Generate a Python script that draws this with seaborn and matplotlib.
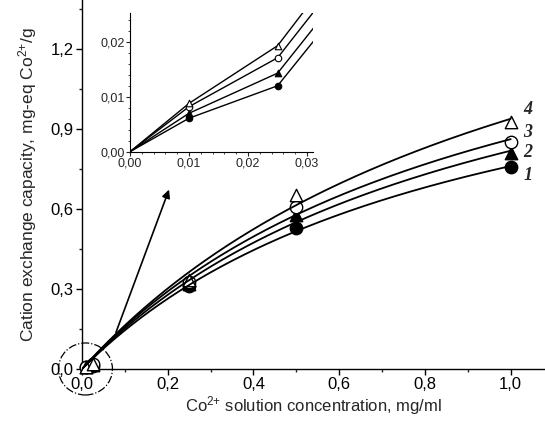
import numpy as np
import pandas as pd
import matplotlib
matplotlib.use("Agg")
import matplotlib.pyplot as plt
from matplotlib.ticker import FuncFormatter, MultipleLocator
from matplotlib.patches import Ellipse
import seaborn as sns

# ---- data ----
conc = [0.0, 0.01, 0.025, 0.25, 0.5, 1.0]
s1 = [0.0, 0.0061, 0.0120, 0.312, 0.527, 0.757]
s2 = [0.0, 0.0070, 0.0143, 0.318, 0.577, 0.810]
s3 = [0.0, 0.0082, 0.0171, 0.325, 0.609, 0.851]
s4 = [0.0, 0.0088, 0.0193, 0.335, 0.652, 0.926]
series_names = ["1", "2", "3", "4"]
xticks_main = [0.0, 0.2, 0.4, 0.6, 0.8, 1.0]
yticks_main = [0.0, 0.3, 0.6, 0.9, 1.2]
xticks_inset = [0.0, 0.01, 0.02, 0.03]
yticks_inset = [0.0, 0.01, 0.02]

sns.set_style("ticks")
plt.rcParams["font.family"] = ["Liberation Sans", "DejaVu Sans"]
plt.rcParams["mathtext.default"] = "regular"

fig = plt.figure(figsize=(5.45, 4.28), dpi=100)
ax = fig.add_axes([0.1505, 0.1379, 0.8495, 0.862])

series = [s1, s2, s3, s4]
markers = ["o", "^", "o", "^"]
filled = [True, True, False, False]
label_y = [0.727, 0.81, 0.885, 0.971]

def comma(fmt):
    return FuncFormatter(lambda v, p: (fmt % v).replace(".", ","))

# Langmuir fit for each series (grid search least squares)
c_arr = np.array(conc[1:])
qm_grid = np.linspace(0.5, 5.0, 451)[:, None]
k_grid = np.linspace(0.1, 10.0, 991)[None, :]
cfine = np.linspace(0.0, 1.0, 300)

for idx, (vals, name, mk, fl) in enumerate(zip(series, series_names, markers, filled)):
    q = np.array(vals[1:])
    err = np.zeros((qm_grid.shape[0], k_grid.shape[1]))
    for ci, qi in zip(c_arr, q):
        pred = qm_grid * k_grid * ci / (1 + k_grid * ci)
        err += (pred - qi) ** 2
    i, j = np.unravel_index(np.argmin(err), err.shape)
    qm, K = qm_grid[i, 0], k_grid[0, j]
    fit = qm * K * cfine / (1 + K * cfine)
    sns.lineplot(x=cfine, y=fit, ax=ax, color="black", lw=1.3, zorder=5)
    df = pd.DataFrame({"c": conc[1:], "q": vals[1:]})
    sns.scatterplot(data=df, x="c", y="q", ax=ax, marker=mk, s=80,
                    facecolor="black" if fl else "white", edgecolor="black",
                    linewidth=1.0, zorder=3 + idx * 0.1, clip_on=False)
    ax.text(1.04, label_y[idx], name, fontsize=13, fontweight="bold",
            fontstyle="italic", family=["Liberation Serif"],
            ha="center", va="center")

ax.set_xlim(0, 1.08)
ax.set_ylim(0, 1.383)
ax.set_xticks(xticks_main)
ax.set_yticks(yticks_main)
ax.xaxis.set_minor_locator(MultipleLocator(0.1))
ax.yaxis.set_minor_locator(MultipleLocator(0.15))
ax.xaxis.set_major_formatter(comma("%.1f"))
ax.yaxis.set_major_formatter(comma("%.1f"))
ax.tick_params(axis="both", which="major", direction="out", length=4, width=1,
               labelsize=12, colors="black", pad=2)
ax.tick_params(axis="both", which="minor", direction="out", length=2.5, width=1)
for sp in ["top", "right"]:
    ax.spines[sp].set_visible(False)
for sp in ["left", "bottom"]:
    ax.spines[sp].set_linewidth(1.0)
    ax.spines[sp].set_color("black")
ax.set_xlabel("Co$^{2{+}}$ solution concentration, mg/ml", fontsize=12, labelpad=1)
ax.set_ylabel("Cation exchange capacity, mg-eq Co$^{2{+}}$/g", fontsize=12.5,
              labelpad=8)

# dashed circle around origin
ell = Ellipse((0.008, 0.0), 0.126, 0.195, fill=False, ls="-.", lw=0.9,
              color="black", clip_on=False, zorder=6)
ax.add_patch(ell)

# arrow to inset
ax.annotate("", xy=(170 / 545, 1 - 187 / 428), xycoords="figure fraction",
            xytext=(115 / 545, 1 - 335 / 428), textcoords="figure fraction",
            arrowprops=dict(arrowstyle="-|>", color="black", lw=1.2,
                            mutation_scale=12))

# ---- inset ----
ins = fig.add_axes([130 / 545, 1 - 151.7 / 428, 183 / 545, 138.4 / 428])
ins.patch.set_alpha(0)
for vals, mk, fl in zip(series, markers, filled):
    sns.lineplot(x=conc[:4], y=vals[:4], ax=ins, color="black", lw=1.0,
                 sort=False, zorder=3)
    df = pd.DataFrame({"c": conc[1:3], "q": vals[1:3]})
    sns.scatterplot(data=df, x="c", y="q", ax=ins, marker=mk, s=22,
                    facecolor="black" if fl else "white", edgecolor="black",
                    linewidth=0.8, zorder=4)
ins.set_xlim(0, 0.031)
ins.set_ylim(0, 0.0252)
ins.set_xticks(xticks_inset)
ins.set_yticks(yticks_inset)
ins.xaxis.set_minor_locator(MultipleLocator(0.002))
ins.yaxis.set_minor_locator(MultipleLocator(0.002))
ins.xaxis.set_major_formatter(comma("%.2f"))
ins.yaxis.set_major_formatter(comma("%.2f"))
ins.tick_params(axis="both", which="major", direction="out", length=3, width=0.8,
                labelsize=9, pad=1)
ins.tick_params(axis="both", which="minor", direction="out", length=1.5, width=0.6)
for sp in ["top", "right"]:
    ins.spines[sp].set_visible(False)
for sp in ["left", "bottom"]:
    ins.spines[sp].set_linewidth(0.8)
    ins.spines[sp].set_color("black")
ins.set_xlabel("")
ins.set_ylabel("")

fig.savefig("out.png", dpi=100)
